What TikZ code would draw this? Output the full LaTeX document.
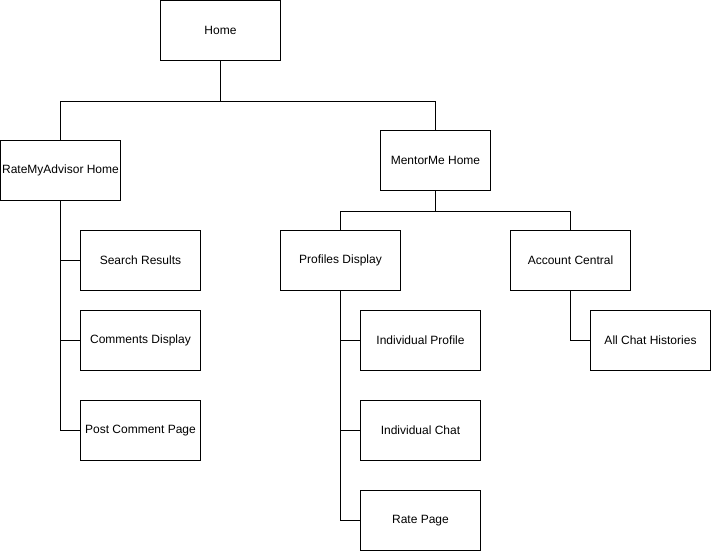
\documentclass[tikz,border=0pt]{standalone}
\usepackage{fontspec}
\setmainfont{Liberation Sans}
\begin{document}
\begin{tikzpicture}[x=1pt,y=-1pt,line width=1pt,line join=miter]
		\tikzset{page/.style={draw,rectangle,inner sep=0pt,minimum width=120pt,minimum height=60pt,font=\fontsize{12}{14}\selectfont}}
		\useasboundingbox (0,0) rectangle (711,551);
		\node[page] (home) at (220.5,30.5) {Home};
		\node[page] (rma) at (60.5,170.5) {RateMyAdvisor Home};
		\node[page,minimum width=110pt] (mentor) at (435.5,160.5) {MentorMe Home};
		\node[page] (profiles) at (340.5,260.5) {Profiles Display};
		\node[page] (account) at (570.5,260.5) {Account Central};
		\node[page] (search) at (140.5,260.5) {Search Results};
		\node[page] (comments) at (140.5,340.5) {Comments Display};
		\node[page] (post) at (140.5,430.5) {Post Comment Page};
		\node[page] (profile) at (420.5,340.5) {Individual Profile};
		\node[page] (chat) at (420.5,430.5) {Individual Chat};
		\node[page] (rate) at (420.5,520.5) {Rate Page};
		\node[page] (histories) at (650.5,340.5) {All Chat Histories};
		% tree links
		\foreach \c in {rma,mentor}
		\draw (home.south) -- ++(0,40) -| (\c.north);
		\foreach \c in {profiles,account}
		\draw (mentor.south) -- ++(0,20) -| (\c.north);
		\foreach \c in {search,comments,post}
		\draw (rma.south) |- (\c.west);
		\foreach \c in {profile,chat,rate}
		\draw (profiles.south) |- (\c.west);
		\draw (account.south) |- (histories.west);
		
		\end{tikzpicture}
\end{document}
